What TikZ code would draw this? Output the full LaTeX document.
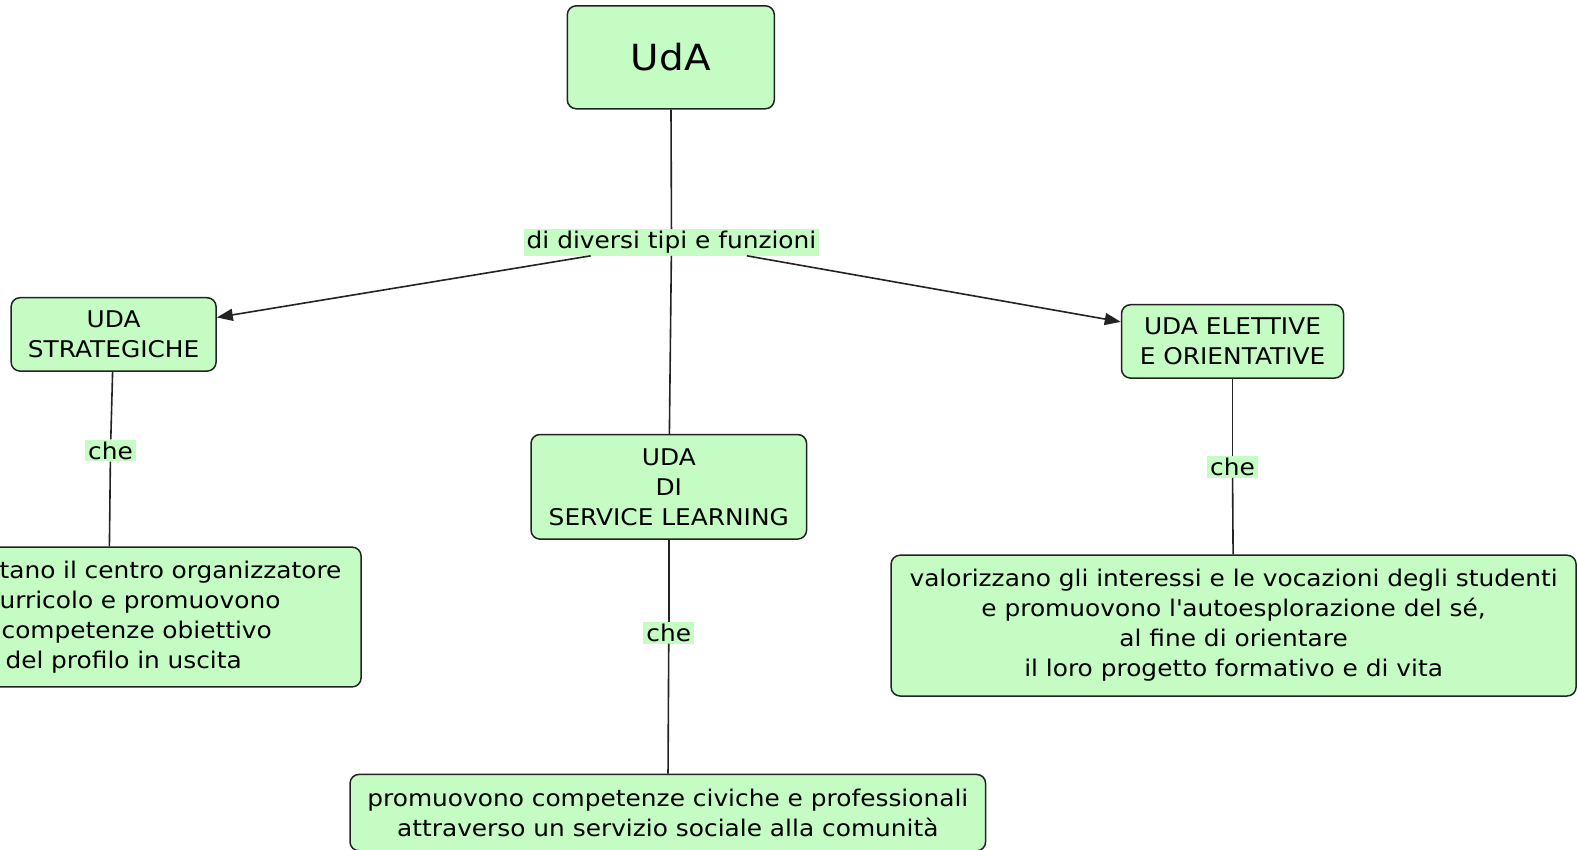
\documentclass[tikz,border=0pt]{standalone}
\usepackage{fontspec}
\setmainfont[FakeStretch=1.08]{DejaVu Sans}
\usetikzlibrary{arrows.meta}
\definecolor{boxfill}{RGB}{196,252,196}
\definecolor{edge}{RGB}{35,35,35}
\tikzset{
  concept/.style={draw=edge, line width=1.5pt, fill=boxfill, rounded corners=9pt,
    font=\fontsize{23}{30}\selectfont, align=center, inner sep=0pt},
  linklabel/.style={fill=boxfill, font=\fontsize{23}{30}\selectfont, inner xsep=3pt, inner ysep=2pt},
  conn/.style={draw=edge, line width=1.6pt},
  arr/.style={conn, -{Triangle[length=16pt,width=12pt]}}
}
\begin{document}
\begin{tikzpicture}[x=1pt,y=-1pt]
\useasboundingbox[fill=white] (0,0) rectangle (1577,849);
\node[concept, minimum width=207pt, minimum height=103pt, font=\fontsize{36}{44}\selectfont] (uda) at (670.8,57.3) {UdA};
\node[linklabel] (tipi) at (671.5,242.5) {di diversi tipi e funzioni};
\node[concept, minimum width=205pt, minimum height=73.4pt] (strat) at (113.6,334.4) {UDA\\STRATEGICHE};
\node[concept, minimum width=222pt, minimum height=73.4pt] (elet) at (1232.5,341.4) {UDA ELETTIVE\\E ORIENTATIVE};
\node[concept, minimum width=275.6pt, minimum height=104.6pt] (serv) at (668.8,486.8) {UDA\\DI\\SERVICE LEARNING};
\node[linklabel] (che1) at (110.5,450.5) {che};
\node[linklabel] (che2) at (668.8,632.6) {che};
\node[linklabel] (che3) at (1232.5,466.7) {che};
\node[concept, minimum height=139.8pt, text width=505pt, align=left] (lbox) at (108.6,617)
  {\hspace*{143.5pt}tano il centro organizzatore\\
   \hspace*{143.5pt}urricolo e promuovono\\
   \hspace*{145.5pt}competenze obiettivo\\
   \hspace*{149.5pt}del profilo in uscita};
\node[concept, minimum width=685pt, minimum height=140.8pt] (rbox) at (1233.6,625.6)
  {valorizzano gli interessi e le vocazioni degli studenti\\
   e promuovono l\textquotesingle autoesplorazione del sé,\\
   al fine di orientare\\
   il loro progetto formativo e di vita};
\node[concept, minimum width=635.6pt, minimum height=76.4pt] (bbox) at (667.8,812.6)
  {promuovono competenze civiche e professionali\\
   attraverso un servizio sociale alla comunità};
\draw[conn] (uda) -- (tipi);
\draw[conn] (tipi) -- (serv);
\draw[arr] (tipi) -- (strat);
\draw[arr] (tipi) -- (elet);
\draw[conn] (strat) -- (che1);
\draw[conn] (che1) -- (lbox);
\draw[conn] (serv) -- (che2);
\draw[conn] (che2) -- (bbox);
\draw[conn] (elet) -- (che3);
\draw[conn] (che3) -- (rbox);
\end{tikzpicture}
\end{document}
